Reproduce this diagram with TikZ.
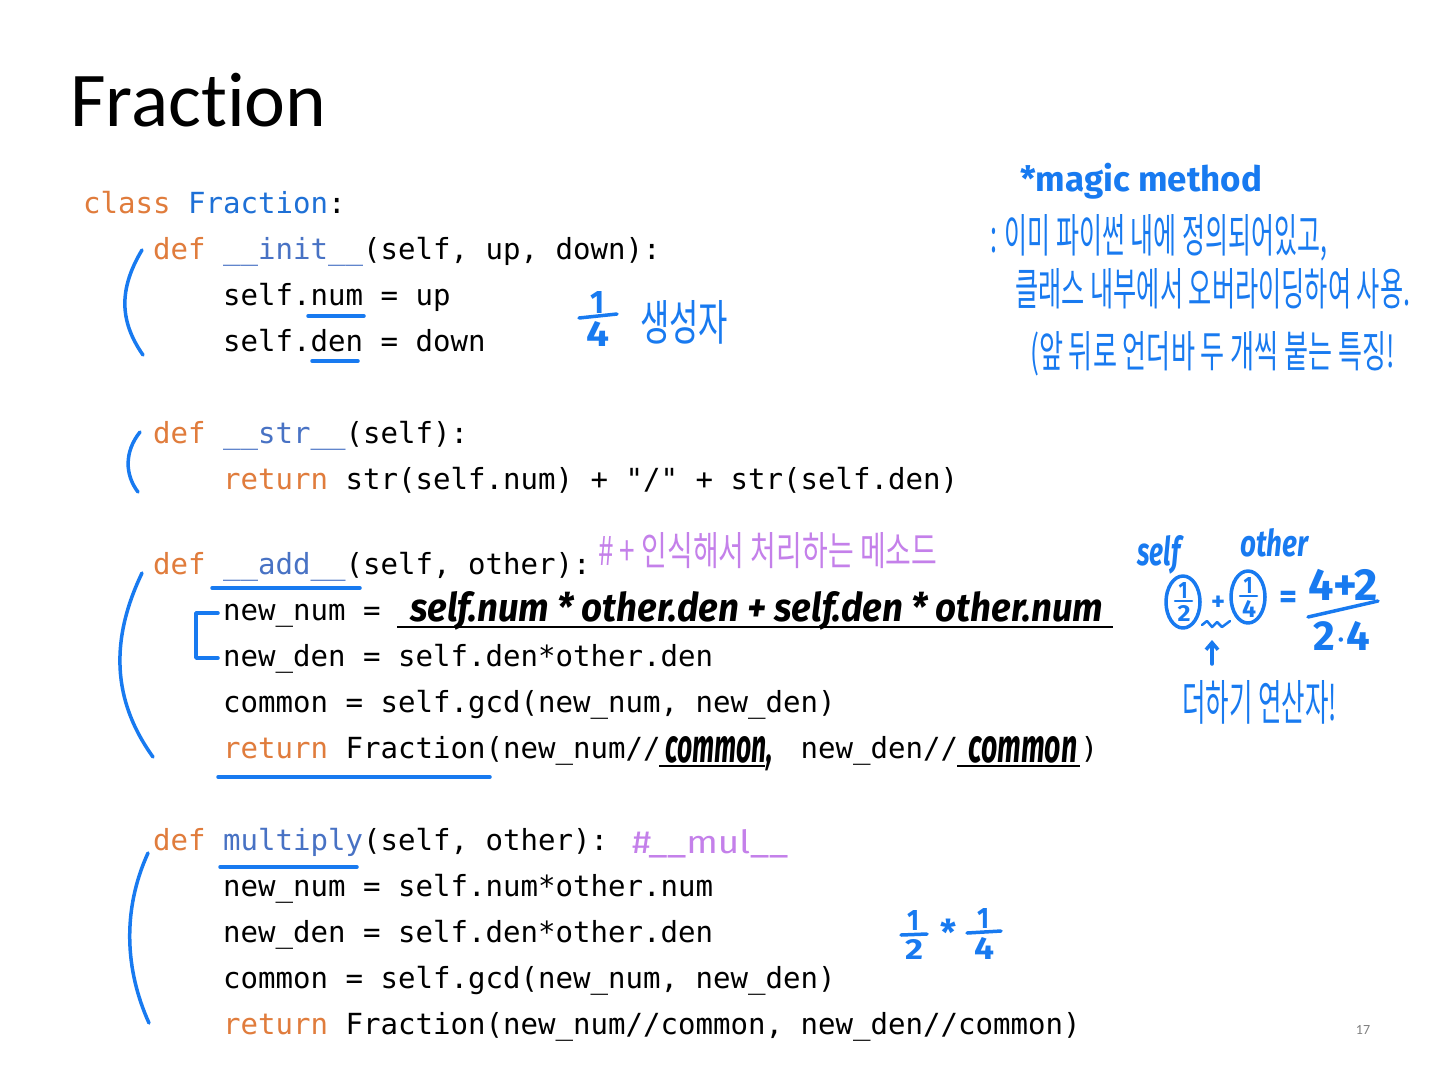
\documentclass[tikz,border=0pt]{standalone}
\usepackage{amsmath}
\usepackage{fontspec}
\setmainfont{Carlito}[Ligatures=NoCommon]
\setmonofont{DejaVu Sans Mono}
\newfontfamily\korfont{Noto Sans CJK KR}
\newfontfamily\handfont{Fira Sans}
\usetikzlibrary{arrows.meta,shapes.geometric}

\definecolor{kworange}{RGB}{224,124,60}
\definecolor{fnblue}{RGB}{72,114,196}
\definecolor{clsblue}{RGB}{30,112,214}
\definecolor{penblue}{RGB}{24,122,240}
\definecolor{penpurple}{RGB}{196,128,234}

\newcommand{\kwd}[1]{\textcolor{kworange}{#1}}
\newcommand{\fnm}[1]{\textcolor{fnblue}{#1}}
\newcommand{\clsn}[1]{\textcolor{clsblue}{#1}}

\tikzset{
  code/.style={anchor=base west, inner sep=0pt, font=\ttfamily\fontsize{29.07}{30}\selectfont},
  pen/.style={draw=penblue, line width=3.5pt, line cap=round, line join=round},
  note/.style={anchor=base west, inner sep=0pt, text=penblue},
  handnum/.style={inner sep=0pt, text=penblue, font=\handfont\bfseries},
}

\begin{document}
\begin{tikzpicture}[x=1pt,y=-1pt]
\useasboundingbox[fill=white] (0,0) rectangle (1440,1080);

\node[anchor=base west, inner sep=0pt, font=\fontsize{77.5}{78}\selectfont] (title) at (70,126) {Fraction};

% code
\node[code] (cls) at (83,213) {\kwd{class} \clsn{Fraction}:};
\node[code] (init0) at (153,259) {\kwd{def} \fnm{\_\_init\_\_}(self, up, down):};
\node[code] (init1) at (223,305) {self.num = up};
\node[code] (init2) at (223,351) {self.den = down};
\node[code] (str0) at (153,443) {\kwd{def} \fnm{\_\_str\_\_}(self):};
\node[code] (str1) at (223,489) {\kwd{return} str(self.num) + "/" + str(self.den)};
\node[code] (add0) at (153,574) {\kwd{def} \fnm{\_\_add\_\_}(self, other):};
\node[code] (add1) at (223,620) {new\_num =};
\node[code] (add2) at (223,666) {new\_den = self.den*other.den};
\node[code] (add3) at (223,712) {common = self.gcd(new\_num, new\_den)};
\node[code] (add4) at (223,758) {\kwd{return} Fraction(new\_num//};
\node[code] (add4b) at (800.5,758) {new\_den//};
\node[code] (add4c) at (1080.5,758) {)};
\node[code] (mul0) at (153,850) {\kwd{def} \fnm{multiply}(self, other):};
\node[code] (mul1) at (223,896) {new\_num = self.num*other.num};
\node[code] (mul2) at (223,942) {new\_den = self.den*other.den};
\node[code] (mul3) at (223,988) {common = self.gcd(new\_num, new\_den)};
\node[code] (mul4) at (223,1034) {\kwd{return} Fraction(new\_num//common, new\_den//common)};

% handwritten fill-ins
\node[anchor=base west, inner sep=0pt] (numfill) at (410,621) {\resizebox{693pt}{30pt}{\handfont\itshape\bfseries self.num * other.den + self.den * other.num}};
\draw[line width=2pt] (397,627) -- (1113,627);
\node[anchor=base west, inner sep=0pt] (comfill1) at (665,762) {\resizebox{108pt}{26pt}{\handfont\itshape\bfseries common,}};
\draw[line width=2pt] (659,766) -- (765,766);
\node[anchor=base west, inner sep=0pt] (comfill2) at (968,762) {\resizebox{109pt}{26pt}{\handfont\itshape\bfseries common}};
\draw[line width=2pt] (957,766) -- (1080,766);

% brackets and underlines
\draw[pen] (142,250) .. controls (118,290) and (120,322) .. (143,355);
\draw[pen] (140,432) .. controls (124,452) and (125,475) .. (138,492);
\draw[pen] (142,573) .. controls (110,640) and (112,700) .. (153,757);
\draw[pen] (148,853) .. controls (122,910) and (125,970) .. (149,1023);
\draw[pen] (218,613) -- (196,613) -- (196,658) -- (218,658);
\draw[pen] (308,316) -- (364,316);
\draw[pen] (312,361) -- (358,361);
\draw[pen] (212,588) -- (360,588);
\draw[pen] (218,777) -- (490,777);
\draw[pen] (220,867) -- (357,867);

% notes
\node[note] (magic) at (1020,191) {\resizebox{242pt}{!}{\handfont\bfseries *magic method}};
\node[note] (magic1) at (990,252) {\resizebox{337pt}{38pt}{\korfont : 이미 파이썬 내에 정의되어있고,}};
\node[note] (magic2) at (1015,305) {\resizebox{395pt}{37pt}{\korfont 클래스 내부에서 오버라이딩하여 사용.}};
\node[note] (magic3) at (1030,367) {\resizebox{365pt}{36pt}{\korfont (앞 뒤로 언더바 두 개씩 붙는 특징!}};
\node[handnum] (qnum) at (597,302) {\resizebox{14pt}{22pt}{1}};
\draw[pen] (579,318) -- (617,314);
\node[handnum] (qden) at (598,334) {\resizebox{23pt}{25pt}{4}};
\node[note] (ctor) at (640,340) {\resizebox{88pt}{40pt}{\korfont 생성자}};
\node[anchor=base west, inner sep=0pt, text=penpurple] (addnote) at (598,565) {\resizebox{339pt}{33pt}{\korfont\# + 인식해서 처리하는 메소드}};
\node[anchor=base west, inner sep=0pt, text=penpurple] (mulnote) at (632,853) {\resizebox{156pt}{24pt}{\handfont\#\_\_mul\_\_}};

% 1/2 * 1/4
\node[handnum] (pa1) at (913,920) {\resizebox{12pt}{20pt}{1}};
\draw[pen] (901,935) -- (927,934);
\node[handnum] (pa2) at (914,949) {\resizebox{18pt}{20pt}{2}};
\node[handnum] (star) at (948,932) {\resizebox{16pt}{!}{*}};
\node[handnum] (pb1) at (983,918) {\resizebox{12pt}{20pt}{1}};
\draw[pen] (967,933) -- (1001,931);
\node[handnum] (pb4) at (984,948) {\resizebox{20pt}{22pt}{4}};

% self + other
\node[note] (selfl) at (1137,565) {\resizebox{43pt}{30pt}{\handfont\itshape\bfseries self}};
\node[note] (otherl) at (1240,556) {\resizebox{68pt}{28pt}{\handfont\itshape\bfseries other}};
\node[pen, ellipse, minimum width=34pt, minimum height=52pt] (selfc) at (1183,602) {};
\node[handnum] (sc1) at (1183,590) {\resizebox{9pt}{16pt}{1}};
\draw[pen, line width=2.5pt] (1175,601) -- (1192,601);
\node[handnum] (sc2) at (1184,613) {\resizebox{13pt}{16pt}{2}};
\node[pen, ellipse, minimum width=34pt, minimum height=52pt] (otherc) at (1248,597) {};
\node[handnum] (oc1) at (1248,585) {\resizebox{9pt}{16pt}{1}};
\draw[pen, line width=2.5pt] (1240,596) -- (1257,596);
\node[handnum] (oc4) at (1249,609) {\resizebox{14pt}{17pt}{4}};
\node[handnum] (plus) at (1218,603) {\resizebox{14pt}{!}{+}};
\draw[pen, line width=2.5pt] (1202,625) -- (1207,621) -- (1212,627) -- (1217,622) -- (1222,627) -- (1230,621);
\node[handnum] (eq) at (1288,600) {\resizebox{18pt}{!}{=}};
\node[handnum] (sumtop) at (1343,585) {\resizebox{70pt}{!}{4+2}};
\draw[pen] (1308,617) -- (1378,601);
\node[handnum] (sumbot) at (1342,636) {\resizebox{57pt}{!}{2$\cdot$4}};
\node[note] (addop) at (1182,720) {\resizebox{155pt}{40pt}{\korfont 더하기 연산자!}};
\draw[pen, -{Straight Barb[length=7pt,width=12pt]}] (1212,664) -- (1212,640);

\node[inner sep=0pt, text=gray, font=\fontsize{14}{14}\selectfont] (page) at (1363,1030) {17};
\end{tikzpicture}
\end{document}
